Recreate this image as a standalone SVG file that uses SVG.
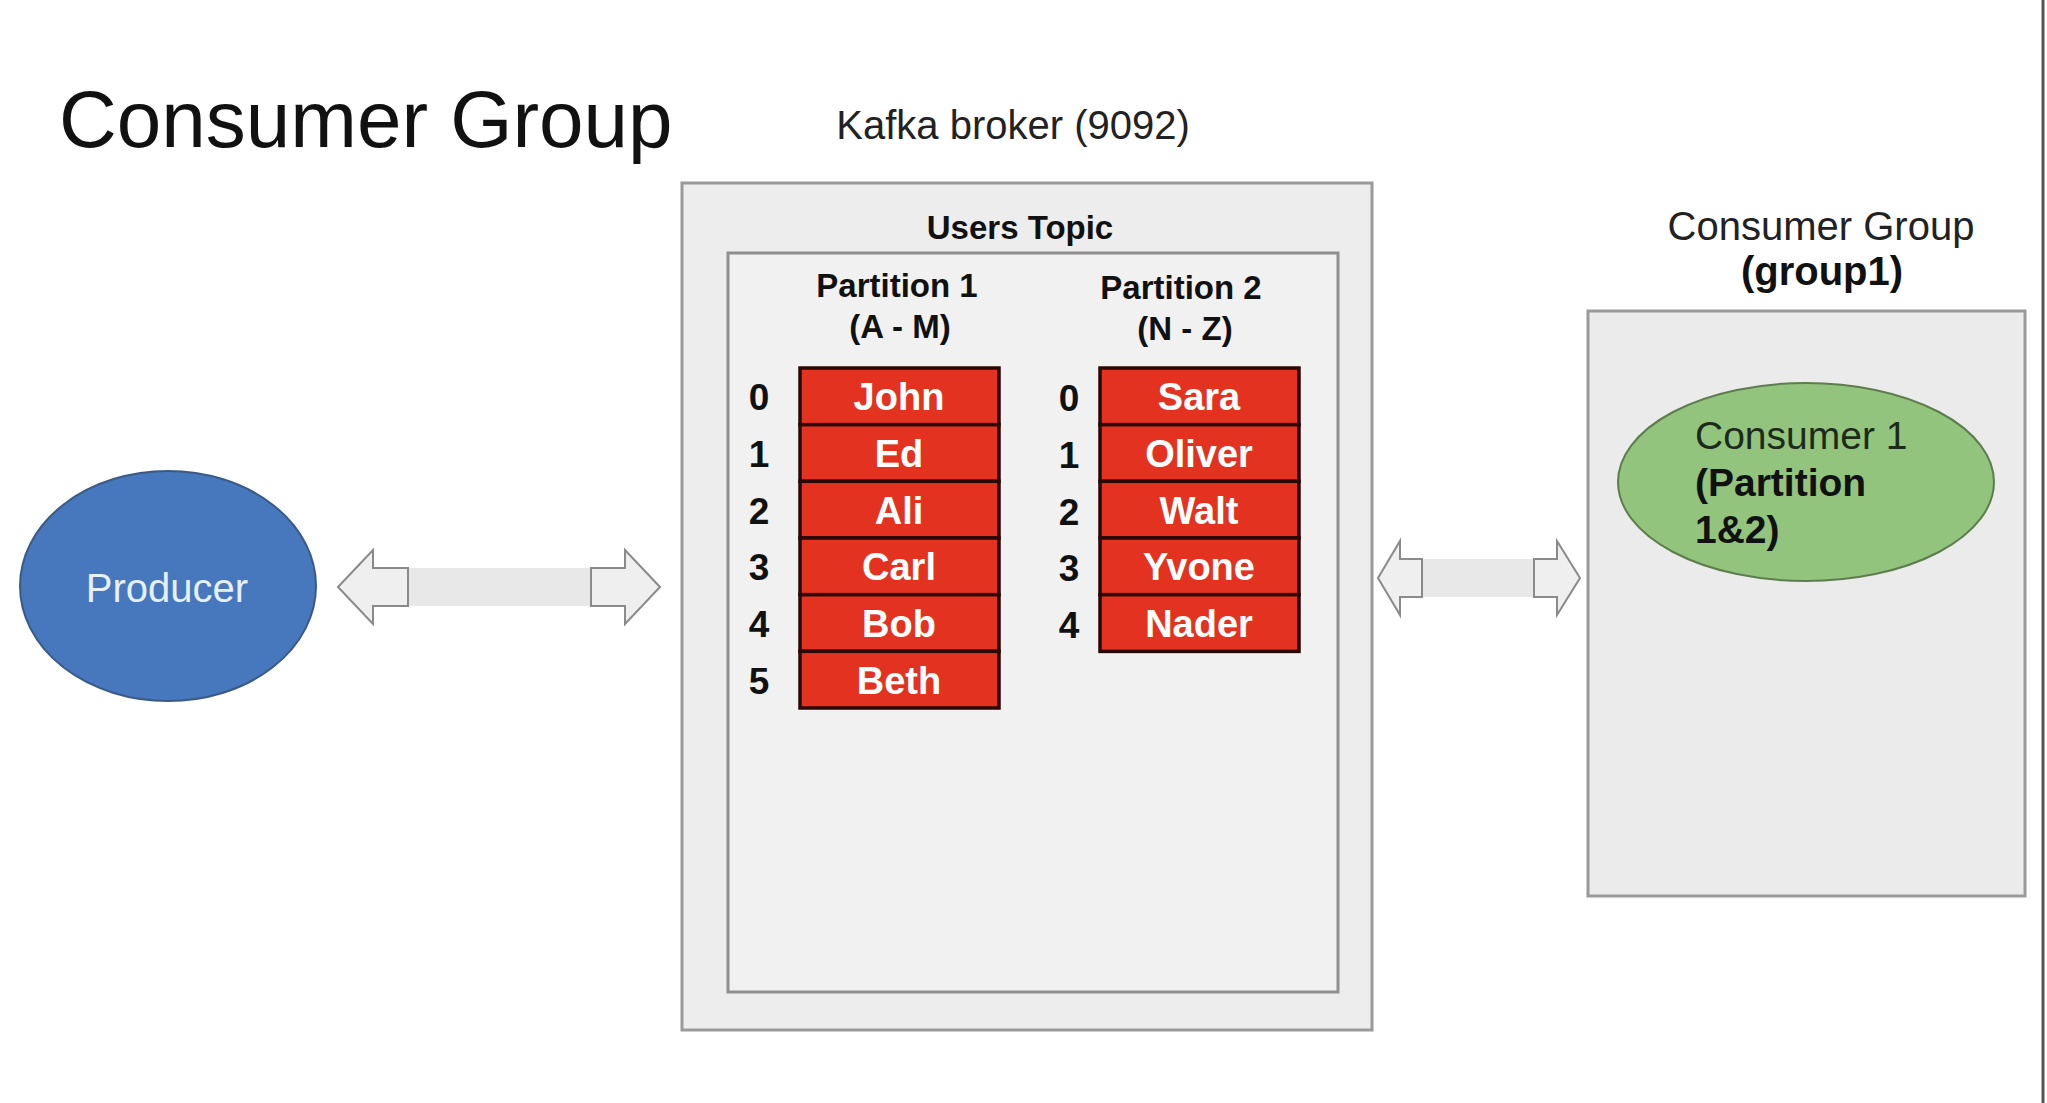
<svg xmlns="http://www.w3.org/2000/svg" width="2047" height="1103" viewBox="0 0 2047 1103">
<style>
  text { font-family: "Liberation Sans", Arial, Helvetica, sans-serif; }
  .box { fill: #ededed; stroke: #9a9a9a; stroke-width: 3; }
  .inner { fill: #f1f1f1; stroke: #8f8f8f; stroke-width: 3; }
  .rec { fill: #e3321f; stroke: #2a0806; stroke-width: 3.5; }
  .name { font-size: 38px; font-weight: bold; fill: #ffffff; text-anchor: middle; }
  .idx { font-size: 37px; font-weight: bold; fill: #111; text-anchor: middle; }
  .hdr { font-size: 33px; font-weight: bold; fill: #111; text-anchor: middle; }
  .head { fill: #efefef; stroke: #8a8a8a; stroke-width: 2; }
  .shaft { fill: #e8e8e8; }
</style>
<rect x="0" y="0" width="2047" height="1103" fill="#ffffff"/>
<line x1="2043" y1="0" x2="2043" y2="1103" stroke="#555" stroke-width="3"/>

<g id="title">
  <text x="59" y="147" font-size="80" fill="#111">Consumer Group</text>
</g>

<g id="broker">
  <text x="1013" y="139" font-size="40" fill="#222" text-anchor="middle">Kafka broker (9092)</text>
  <rect class="box" x="682" y="183" width="690" height="847"/>
</g>

<g id="users-topic">
  <text class="hdr" x="1020" y="239" font-size="34">Users Topic</text>
  <rect class="inner" x="728" y="253" width="610" height="739"/>
</g>

<g id="partition1">
  <text class="hdr" x="897" y="297">Partition 1</text>
  <text class="hdr" x="900" y="338">(A - M)</text>
  <rect class="rec" x="800" y="368" width="199" height="56.7"/>
  <rect class="rec" x="800" y="424.7" width="199" height="56.7"/>
  <rect class="rec" x="800" y="481.3" width="199" height="56.7"/>
  <rect class="rec" x="800" y="538" width="199" height="56.7"/>
  <rect class="rec" x="800" y="594.7" width="199" height="56.7"/>
  <rect class="rec" x="800" y="651.3" width="199" height="56.7"/>
  <text class="name" x="899" y="410">John</text>
  <text class="name" x="899" y="467">Ed</text>
  <text class="name" x="899" y="524">Ali</text>
  <text class="name" x="899" y="580">Carl</text>
  <text class="name" x="899" y="637">Bob</text>
  <text class="name" x="899" y="694">Beth</text>
  <text class="idx" x="759" y="410">0</text>
  <text class="idx" x="759" y="467">1</text>
  <text class="idx" x="759" y="524">2</text>
  <text class="idx" x="759" y="580">3</text>
  <text class="idx" x="759" y="637">4</text>
  <text class="idx" x="759" y="694">5</text>
</g>

<g id="partition2">
  <text class="hdr" x="1181" y="299">Partition 2</text>
  <text class="hdr" x="1185" y="340">(N - Z)</text>
  <rect class="rec" x="1100" y="368" width="199" height="56.7"/>
  <rect class="rec" x="1100" y="424.7" width="199" height="56.7"/>
  <rect class="rec" x="1100" y="481.3" width="199" height="56.7"/>
  <rect class="rec" x="1100" y="538" width="199" height="56.7"/>
  <rect class="rec" x="1100" y="594.7" width="199" height="56.7"/>
  <text class="name" x="1199" y="410">Sara</text>
  <text class="name" x="1199" y="467">Oliver</text>
  <text class="name" x="1199" y="524">Walt</text>
  <text class="name" x="1199" y="580">Yvone</text>
  <text class="name" x="1199" y="637">Nader</text>
  <text class="idx" x="1069" y="411">0</text>
  <text class="idx" x="1069" y="468">1</text>
  <text class="idx" x="1069" y="525">2</text>
  <text class="idx" x="1069" y="581">3</text>
  <text class="idx" x="1069" y="638">4</text>
</g>

<g id="producer">
  <ellipse cx="168" cy="586" rx="148" ry="115" fill="#4777bd" stroke="#3a5a86" stroke-width="2"/>
  <text x="167" y="602" font-size="40" fill="#e6f0fb" text-anchor="middle">Producer</text>
</g>

<g id="consumer-group">
  <text x="1821" y="240" font-size="40" fill="#222" text-anchor="middle">Consumer Group</text>
  <text x="1822" y="285" font-size="40" font-weight="bold" fill="#111" text-anchor="middle">(group1)</text>
  <rect class="box" x="1588" y="311" width="437" height="585" style="fill:#ebebeb"/>
</g>

<g id="consumer1">
  <ellipse cx="1806" cy="482" rx="188" ry="99" fill="#93c47d" stroke="#5d7d4d" stroke-width="2"/>
  <text x="1695" y="449" font-size="39" fill="#1d2a1a">Consumer 1</text>
  <text x="1695" y="496" font-size="39" font-weight="bold" fill="#111">(Partition</text>
  <text x="1695" y="543" font-size="39" font-weight="bold" fill="#111">1&amp;2)</text>
</g>

<g id="connectors">
  <g id="arrow-producer-broker">
    <rect class="shaft" x="408" y="568" width="183" height="38"/>
    <polygon class="head" points="338,587 373,550 373,568 408,568 408,606 373,606 373,624"/>
    <polygon class="head" points="660,587 625,550 625,568 591,568 591,606 625,606 625,624"/>
  </g>
  <g id="arrow-broker-consumer">
    <rect class="shaft" x="1422" y="559" width="112" height="38"/>
    <polygon class="head" points="1378,578 1400,541 1400,559 1422,559 1422,597 1400,597 1400,615"/>
    <polygon class="head" points="1580,578 1557,541 1557,559 1534,559 1534,597 1557,597 1557,615"/>
  </g>
</g>
</svg>
